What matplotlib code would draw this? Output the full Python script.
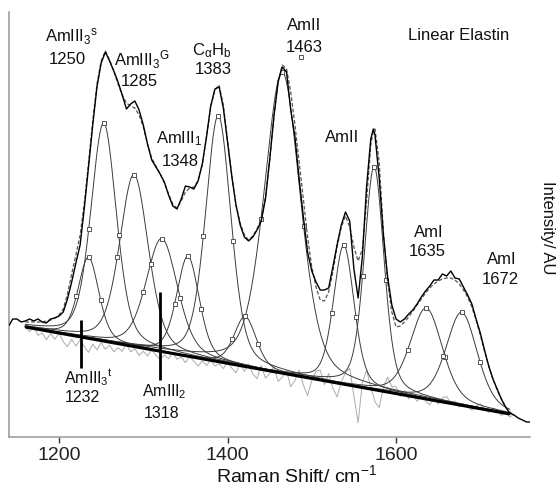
import numpy as np
import matplotlib
matplotlib.use('Agg')
import matplotlib.pyplot as plt

plt.rcParams['font.family'] = ['Liberation Sans', 'DejaVu Sans']
plt.rcParams['mathtext.fontset'] = 'custom'
plt.rcParams['mathtext.rm'] = 'Liberation Sans'
plt.rcParams['mathtext.it'] = 'Liberation Sans:italic'
plt.rcParams['mathtext.bf'] = 'Liberation Sans:bold'

# ---------------- data ----------------
shift = [1160, 1165, 1170, 1175, 1180, 1185, 1190, 1195, 1200, 1205,
         1210, 1215, 1220, 1225, 1230, 1235, 1240, 1245, 1250, 1255,
         1260, 1265, 1270, 1275, 1280, 1285, 1290, 1295, 1300, 1305,
         1310, 1315, 1320, 1325, 1330, 1335, 1340, 1345, 1350, 1355,
         1360, 1365, 1370, 1375, 1380, 1385, 1390, 1395, 1400, 1405,
         1410, 1415, 1420, 1425, 1430, 1435, 1440, 1445, 1450, 1455,
         1460, 1465, 1470, 1475, 1480, 1485, 1490, 1495, 1500, 1505,
         1510, 1515, 1520, 1525, 1530, 1535, 1540, 1545, 1550, 1555,
         1560, 1565, 1570, 1573, 1575, 1580, 1585, 1590, 1595, 1600,
         1605, 1610, 1615, 1620, 1625, 1630, 1635, 1640, 1645, 1650,
         1655, 1660, 1665, 1670, 1675, 1680, 1685, 1690, 1695, 1700,
         1705, 1710, 1715, 1720, 1725, 1730, 1735, 1740]

# fitted envelope (dashed line)
fit_y = [115, 115, 115, 115, 115, 116, 117, 119, 122, 128,
         143, 163, 182, 202, 234, 274, 316, 353, 376, 386,
         377, 366, 353, 342, 334, 331, 329, 322, 310, 293,
         279, 271, 263, 254, 243, 233, 229, 236, 245, 249,
         250, 256, 272, 300, 330, 347, 352, 332, 297, 262,
         232, 214, 202, 197, 201, 208, 218, 240, 277, 320,
         356, 372, 368, 345, 312, 275, 238, 200, 170, 150,
         137, 136, 145, 165, 190, 210, 221, 210, 190, 176,
         188, 235, 292, 306, 308, 275, 205, 155, 125, 110,
         111, 115, 120, 126, 132, 138, 144, 149, 153, 156,
         158, 159, 159, 157, 153, 147, 140, 130, 117, 102,
         86, 71, 58, 47, 38, 30, 25, 22]

# measured spectrum minus fit
meas_dev = [1, 3, 1, 3, 0, -2, 1, 0, -1, -3,
            -5, -8, -8, -10, -5, -4, -4, -3, -2, -1,
            -1, 0, 2, 0, -6, 2, 7, 5, 2, 0,
            -2, -1, 0, 1, -1, -2, -1, 2, 6, 1,
            -2, 0, 1, 0, 1, 1, -2, -3, -2, -1,
            0, -2, -2, -1, -1, -1, -2, -2, 0, 0,
            -1, -2, -3, -18, -12, -17, -18, -15, -4, 5,
            10, 11, 4, 5, 2, 2, 4, 6, -22, -37,
            -8, 15, 6, 2, -6, -16, -3, 5, 7, 8,
            4, 3, 3, 1, 1, 2, 2, 2, 4, 1,
            5, 2, 7, 2, 5, 3, 2, 3, 1, 2,
            1, 0, 0, 1, 0, 0, -1, 0]

# grey residual trace, offset from the baseline
resid = [0, -4, 2, -6, -3, -9, -2, -7, 0, -8,
         -12, -4, -10, -3, -9, -14, -5, -10, -2, -8,
         -3, -9, -4, -7, 1, -6, -2, -8, -3, -7,
         0, -5, -8, -3, -6, 1, -5, -2, -7, 0,
         -4, -8, -2, -6, 0, -5, -2, -6, 1, -4,
         -8, 2, -5, 3, -6, -10, 4, -8, -3, 5,
         -9, -4, 3, -12, -5, 6, -8, -18, -2, 8,
         10, -4, 8, -6, -14, 2, 12, 17, -10, -36,
         5, 18, 2, -6, -12, -17, 4, 15, 6, 7,
         -2, 4, -3, 2, -4, 3, -2, -5, 2, -3,
         4, 6, 1, 3, -2, 2, 0, -3, 2, 5,
         0, -2, 3, 2, -3, 1, -3, 0]

meas_left_x = [1141, 1145, 1150, 1155]
meas_left_y = [112, 118, 118, 115]
meas_right_x = [1745, 1750, 1755, 1759]
meas_right_y = [19, 17, 15, 15]

baseline_x = [1160, 1735]
baseline_y = [110, 23]

peak_center = [1235, 1253, 1289, 1322, 1353, 1389, 1421, 1465, 1538, 1574, 1636, 1678]
peak_height = [81, 218, 172, 113, 100, 246, 50, 301, 139, 223, 91, 93]
peak_hwhm = [14.4, 17.8, 20.0, 22.0, 15.8, 17.8, 15.4, 25.3, 14.4, 13.8, 22.4, 21.8]
lorentz_frac = 0.35

stray_marker_x = [1487]
stray_marker_y = [380]

marks_x = [1226, 1320]
marks_y0 = [68.7, 57]
marks_y1 = [117, 145.3]

# ---------------- figure ----------------
W, H = 556, 487
fig = plt.figure(figsize=(W / 100, H / 100), dpi=100)
ax = fig.add_axes([9 / W, 1 - 437 / H, (530 - 9) / W, (437 - 12) / H])


def base(x):
    x = np.asarray(x, dtype=float)
    s = (baseline_y[1] - baseline_y[0]) / (baseline_x[1] - baseline_x[0])
    return baseline_y[0] + s * (x - baseline_x[0])


def pvoigt(x, c, a, w):
    r2 = ((x - c) / w) ** 2
    return a * ((1 - lorentz_frac) * np.exp(-np.log(2) * r2) + lorentz_frac / (1 + r2))


sx = np.array(shift, dtype=float)
fy = np.array(fit_y, dtype=float)
meas = fy + np.array(meas_dev, dtype=float)

# components
xf = np.linspace(baseline_x[0], baseline_x[1], 700)
for c, a, w in zip(peak_center, peak_height, peak_hwhm):
    ax.plot(xf, base(xf) + pvoigt(xf, c, a, w), color='#3c3c3c', lw=0.7, zorder=3)
    mx = np.array([c - w, c, c + w])
    ax.plot(mx, base(mx) + pvoigt(mx, c, a, w), ls='none', marker='s', ms=3.2,
            mfc='white', mec='#3c3c3c', mew=0.6, zorder=4)
ax.plot(stray_marker_x, stray_marker_y, ls='none', marker='s', ms=3.2,
        mfc='white', mec='#3c3c3c', mew=0.6, zorder=4)

# residual
ax.plot(sx, base(sx) + np.array(resid, dtype=float), color='#b0b0b0', lw=0.75, zorder=2)

# baseline
ax.plot(baseline_x, baseline_y, color='black', lw=2.2, zorder=5, solid_capstyle='butt')

# fit & measured
ax.plot(sx, fy, color='#555555', lw=0.9, ls=(0, (3, 1.6)), zorder=6)
mx_all = np.concatenate([meas_left_x, sx, meas_right_x])
my_all = np.concatenate([meas_left_y, meas, meas_right_y])
ax.plot(mx_all, my_all, color='black', lw=1.0, zorder=7)

# assignment marks
for x, y0, y1 in zip(marks_x, marks_y0, marks_y1):
    ax.plot([x, x], [y0, y1], color='black', lw=2.0, zorder=8, solid_capstyle='butt')

ax.set_xlim(1140.6, 1759)
ax.set_ylim(0, 425)
ax.set_xticks([1200, 1400, 1600])
ax.set_yticks([])
ax.tick_params(axis='x', direction='out', length=4, width=1.0, colors='#333333',
               labelsize=14, pad=3)
for lab in ax.get_xticklabels():
    lab.set_color('#222222')
for s in ['top', 'right']:
    ax.spines[s].set_visible(False)
for s in ['left', 'bottom']:
    ax.spines[s].set_color('#a0a0a0')
    ax.spines[s].set_linewidth(1.2)


def ftext(px, py, s, **kw):
    kw.setdefault('fontsize', 12)
    kw.setdefault('ha', 'center')
    kw.setdefault('va', 'center')
    kw.setdefault('color', '#111111')
    fig.text(px / W, 1 - py / H, s, **kw)


ftext(72, 37, r'AmIII$_\mathrm{3}$$^\mathrm{s}$')
ftext(67, 59, '1250')
ftext(142, 60, r'AmIII$_\mathrm{3}$$^\mathrm{G}$')
ftext(139, 81, '1285')
ftext(212, 51, r'C$_\mathrm{α}$H$_\mathrm{b}$')
ftext(213, 70, '1383')
ftext(179, 139, r'AmIII$_\mathrm{1}$')
ftext(180, 161, '1348')
ftext(304, 25, 'AmII')
ftext(304, 47, '1463')
ftext(342, 137, 'AmII')
ftext(459, 35, 'Linear Elastin')
ftext(429, 233, 'AmI')
ftext(427, 251, '1635')
ftext(502, 259, 'AmI')
ftext(500, 279, '1672')
ftext(88, 378, r'AmIII$_\mathrm{3}$$^\mathrm{t}$', fontsize=11.5)
ftext(82, 398, '1232', fontsize=11.5)
ftext(164, 392, r'AmIII$_\mathrm{2}$', fontsize=11.5)
ftext(162, 413, '1318', fontsize=11.5)
ftext(297, 475, r'Raman Shift/ cm$^{-1}$', fontsize=14)
ftext(547, 228, 'Intensity/ AU', rotation=-90)

fig.savefig('out.png', dpi=100)
